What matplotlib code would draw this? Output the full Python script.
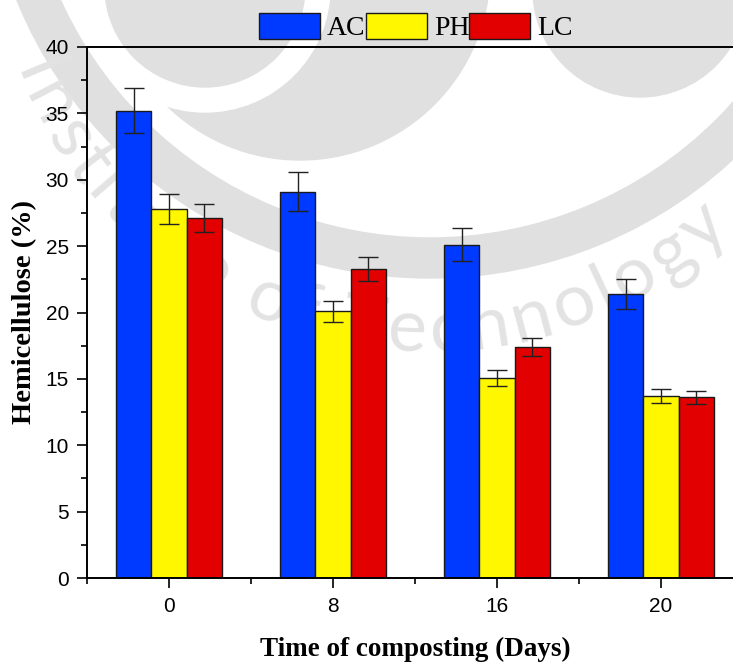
import matplotlib
matplotlib.use("Agg")
import matplotlib.pyplot as plt
import numpy as np
from matplotlib.patches import Circle, Wedge, Patch
from matplotlib.transforms import Affine2D
from matplotlib.textpath import TextToPath
from matplotlib.font_manager import FontProperties

W, H = 733, 664

days = ["0", "8", "16", "20"]
ac = [35.2, 29.1, 25.1, 21.4]
ac_err = [1.7, 1.45, 1.25, 1.1]
ph = [27.8, 20.1, 15.1, 13.7]
ph_err = [1.1, 0.8, 0.6, 0.55]
lc = [27.1, 23.3, 17.4, 13.6]
lc_err = [1.05, 0.9, 0.7, 0.5]

names = ["AC", "PH", "LC"]
colors = ["#0039ff", "#fff700", "#e30000"]

fig = plt.figure(figsize=(W / 100, H / 100), dpi=100)

# background logo, drawn in pixel units (y pointing down)
px = Affine2D().scale(1 / W, -1 / H).translate(0, 1) + fig.transFigure
grey = "#e0e0e0"
fig.patches.append(Circle((300, -30), 190, color=grey, transform=px, zorder=0))
fig.patches.append(Circle((205, -13), 125, color="white", transform=px, zorder=0.1))
fig.patches.append(Circle((205, -13), 100, color=grey, transform=px, zorder=0.2))
fig.patches.append(Circle((640, -10), 107, color=grey, transform=px, zorder=0.2))
fig.patches.append(Wedge((430, -168), 446, 0, 360, width=40, color=grey,
                         transform=px, zorder=0.2))

# curved lettering around the logo (pixel units, y pointing up)
up = Affine2D().scale(1 / W, 1 / H) + fig.transFigure
label = "Institute of Technology"
fsize = 74
fp = FontProperties(family=["Lato", "DejaVu Sans"], size=fsize)
t2p = TextToPath()
widths = [t2p.get_text_width_height_descent(ch, fp, ismath=False)[0] + 5
          for ch in label]
cx, cy, r_base = 425, H + 90, 442
k = label.index("echn")
phi = np.radians(267.6) - (sum(widths[:k]) + widths[k] / 2) / r_base
for ch, w in zip(label, widths):
    mid = phi + (w / 2) / r_base
    fig.text(cx + r_base * np.cos(mid), cy + r_base * np.sin(mid), ch,
             fontproperties=fp, fontsize=fsize * 0.72, color="#e3e3e3",
             rotation=np.degrees(mid) + 90, rotation_mode="anchor",
             ha="center", va="baseline", transform=up, zorder=0.3)
    phi += w / r_base

ax = fig.add_axes([87 / W, 86 / H, 656 / W, 531 / H], zorder=2)
ax.patch.set_alpha(0)

x = np.arange(len(days))
bw = 0.216
for i, (vals, errs) in enumerate([(ac, ac_err), (ph, ph_err), (lc, lc_err)]):
    ax.bar(x + (i - 1) * bw, vals, bw, color=colors[i], edgecolor="#1a1a1a",
           linewidth=1.0, yerr=errs, capsize=7,
           error_kw=dict(ecolor="#222222", elinewidth=1.0, capthick=1.0))

ax.set_xlim(-0.5, 3.5)
ax.set_ylim(0, 40)
ax.set_xticks(x)
ax.set_xticklabels(days)
ax.set_xticks([-0.5, 0.5, 1.5, 2.5, 3.5], minor=True)
ax.set_yticks(np.arange(0, 41, 5))
ax.set_yticks(np.arange(0, 40.1, 2.5), minor=True)
ax.tick_params(which="both", direction="out", width=1.2, labelsize=15,
               top=False, right=False)
ax.tick_params(which="major", length=7)
ax.tick_params(which="minor", length=4)
ax.tick_params(axis="x", pad=7)
ax.tick_params(axis="y", pad=6)
for lab in ax.get_xticklabels() + ax.get_yticklabels():
    lab.set_family("Liberation Sans")
for s in ax.spines.values():
    s.set_linewidth(1.4)

ax.set_xlabel("Time of composting (Days)", family="Liberation Serif",
              fontweight="bold", fontsize=19.5, labelpad=15)
ax.set_ylabel("Hemicellulose (%)", family="Liberation Serif",
              fontweight="bold", fontsize=20.5, labelpad=6)

handles = [Patch(facecolor=c, edgecolor="#1a1a1a", linewidth=1.0) for c in colors]
fig.legend(handles, names, loc="center", bbox_to_anchor=(416 / W, 1 - 27 / H),
           ncol=3, frameon=False, prop=dict(family="Liberation Serif", size=20),
           handlelength=2.2, handleheight=1.1, handletextpad=0.25,
           columnspacing=0.0, borderpad=0)

fig.savefig("out.png", dpi=100)
